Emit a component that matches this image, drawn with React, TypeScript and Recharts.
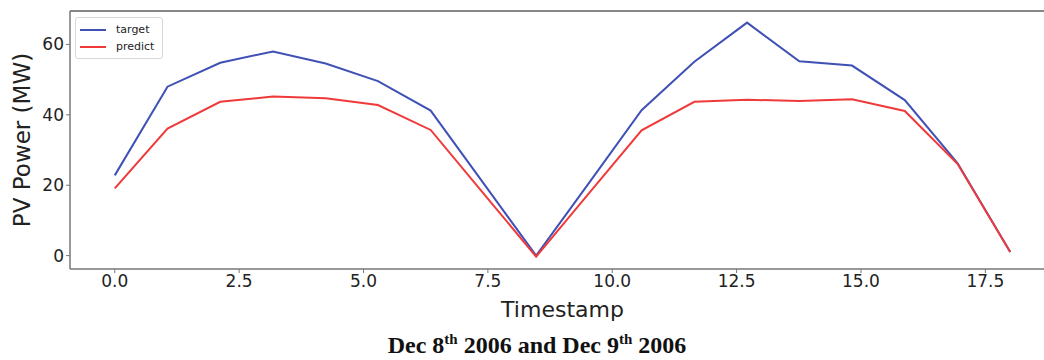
import { LineChart, Line, XAxis, YAxis, Label, ReferenceLine } from 'recharts';

const TIMESTAMPS = [
  0, 1.06, 2.12, 3.18, 4.24, 5.29, 6.35, 7.41, 8.47,
  9.53, 10.59, 11.65, 12.71, 13.76, 14.82, 15.88, 16.94, 18,
];
const TARGET = [
  22.8, 48.0, 54.8, 58.0, 54.6, 49.6, 41.2, 20.6, 0.0,
  20.6, 41.3, 55.1, 66.2, 55.2, 54.0, 44.2, 26.3, 1.0,
];
const PREDICT = [
  19.1, 36.1, 43.7, 45.2, 44.7, 42.8, 35.7, 17.7, -0.3,
  17.7, 35.6, 43.7, 44.3, 43.9, 44.4, 41.1, 26.1, 1.0,
];
const X_TICKS = [0, 2.5, 5, 7.5, 10, 12.5, 15, 17.5];
const Y_TICKS = [0, 20, 40, 60];
const SERIES = [
  { key: 'target', color: '#3f51b5' },
  { key: 'predict', color: '#f03a3a' },
];

const FONT = '"DejaVu Sans", sans-serif';
const Y_MAX = 69.5;

const data = TIMESTAMPS.map((x, i) => ({ x, target: TARGET[i], predict: PREDICT[i] }));

function LegendBox() {
  return (
    <div
      style={{
        position: 'absolute',
        left: 75,
        top: 17,
        border: '1px solid #d8d8d8',
        borderRadius: 3,
        background: 'rgba(255,255,255,0.85)',
        padding: '3px 8px 3px 4px',
        fontFamily: FONT,
        fontSize: 11,
        color: '#222',
        lineHeight: '17px',
      }}
    >
      {SERIES.map((s) => (
        <div key={s.key} style={{ display: 'flex', alignItems: 'center' }}>
          <span style={{ display: 'inline-block', width: 26, height: 2, background: s.color, marginRight: 10 }} />
          {s.key}
        </div>
      ))}
    </div>
  );
}

const supStyle = { fontSize: 15, lineHeight: 0, position: 'relative' as const, top: -9, verticalAlign: 'baseline' };

export default function App() {
  return (
    <div
      style={{
        position: 'absolute',
        left: 0,
        top: 0,
        width: 1044,
        height: 360,
        overflow: 'hidden',
        background: '#fff',
      }}
    >
      <LineChart width={1060} height={360} data={data} margin={{ top: 11, right: 5, left: 0, bottom: 0 }}>
        <XAxis
          dataKey="x"
          type="number"
          domain={[-0.9, 18.9]}
          ticks={X_TICKS}
          tickFormatter={(v: number) => v.toFixed(1)}
          height={91}
          tick={{ fontSize: 17, fill: '#222', fontFamily: FONT }}
          tickLine={{ stroke: '#777' }}
          tickSize={4}
          axisLine={{ stroke: '#777', strokeWidth: 1.5 }}
        >
          <Label
            value="Timestamp"
            position="insideTop"
            offset={32}
            style={{ fontSize: 22, fill: '#222', fontFamily: FONT }}
          />
        </XAxis>
        <YAxis
          type="number"
          domain={[-3.8, Y_MAX]}
          ticks={Y_TICKS}
          width={70}
          tick={{ fontSize: 17, fill: '#222', fontFamily: FONT }}
          tickLine={{ stroke: '#777' }}
          tickSize={4}
          axisLine={{ stroke: '#777', strokeWidth: 1.5 }}
        >
          <Label
            value="PV Power (MW)"
            angle={-90}
            position="insideLeft"
            offset={22}
            style={{ fontSize: 23, fill: '#222', fontFamily: FONT, textAnchor: 'middle' }}
          />
        </YAxis>
        <ReferenceLine y={Y_MAX} stroke="#111" strokeWidth={1.2} />
        {SERIES.map((s) => (
          <Line
            key={s.key}
            dataKey={s.key}
            stroke={s.color}
            strokeWidth={2}
            dot={false}
            isAnimationActive={false}
          />
        ))}
      </LineChart>
      <LegendBox />
      <div
        style={{
          position: 'absolute',
          left: 0,
          width: 1074,
          top: 332,
          textAlign: 'center',
          fontFamily: '"Liberation Serif", "Times New Roman", serif',
          fontWeight: 'bold',
          fontSize: 24,
          lineHeight: '26px',
          color: '#111',
        }}
      >
        Dec 8<span style={supStyle}>th</span> 2006 and Dec 9<span style={supStyle}>th</span> 2006
      </div>
    </div>
  );
}
